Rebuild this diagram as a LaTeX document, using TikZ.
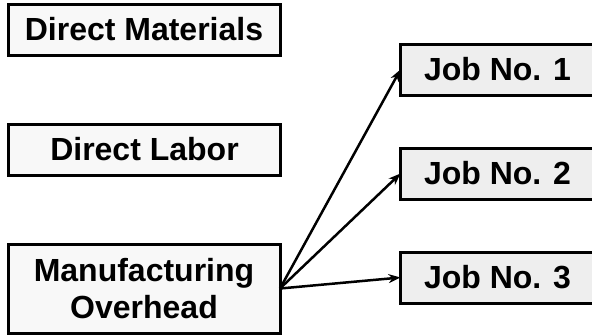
\documentclass[tikz,border=0pt]{standalone}
\usepackage{fontspec}
\setmainfont{Liberation Sans}
\usetikzlibrary{arrows.meta}
\definecolor{srcfill}{HTML}{F8F8F8}
\definecolor{jobfill}{HTML}{EEEEEE}
\begin{document}
\begin{tikzpicture}[x=1pt,y=-1pt,
  box/.style={draw=black,line width=3pt,inner sep=0pt,outer sep=0pt,align=center,
    font=\fontsize{32}{37}\selectfont\bfseries},
  srcbox/.style={box,fill=srcfill,minimum width=272pt},
  jobbox/.style={box,fill=jobfill,minimum width=194pt,minimum height=51pt},
  arr/.style={line width=2.5pt,-{Stealth[length=12pt,width=9pt]}}]
\useasboundingbox (0,0) rectangle (592,335);
\clip (0,0) rectangle (592,335);
\node[srcbox,minimum height=51pt] (dm) at (144,29.5) {Direct Materials};
\node[srcbox,minimum height=51pt] (dl) at (144.5,149.5) {Direct Labor};
\node[srcbox,minimum height=89pt] (mo) at (144,288.5) {Manufacturing\\Overhead};
\node[jobbox] (j1) at (497.5,69.5) {Job No. 1};
\node[jobbox] (j2) at (497.5,173.5) {Job No. 2};
\node[jobbox] (j3) at (497.5,277.5) {Job No. 3};
\draw[arr] (mo.east) -- (j1.west);
\draw[arr] (mo.east) -- (j2.west);
\draw[arr] (mo.east) -- (j3.west);
\end{tikzpicture}
\end{document}
